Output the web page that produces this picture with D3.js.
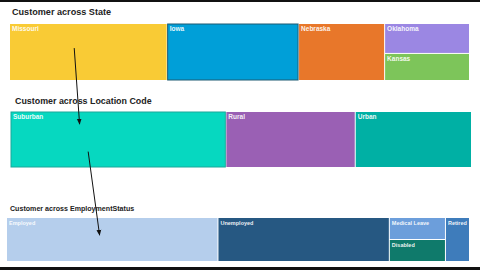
<!DOCTYPE html>
<html>
<head>
<meta charset="utf-8">
<script src="https://cdn.jsdelivr.net/npm/d3@7"></script>
<style>
  body { margin: 0; background: #fff; }
  svg { display: block; font-family: "Liberation Sans", Arial, sans-serif; }
</style>
</head>
<body>
<svg id="chart" width="480" height="270"></svg>
<script>
// State row (Oklahoma + Kansas stacked)
const stateNames = ["Missouri", "Iowa", "Nebraska", "Oklahoma", "Kansas"];
const stateValues = [3120, 2601, 1703, 882, 798];
const stateColors = ["#f9cb35", "#009fd8", "#e8772a", "#9b87e3", "#7dc55a"];

// Location code row
const locNames = ["Suburban", "Rural", "Urban"];
const locValues = [4260, 2560, 2300];
const locColors = ["#06d8c0", "#9a60b4", "#00b0a4"];

// Employment row (Medical Leave + Disabled stacked)
const empNames = ["Employed", "Unemployed", "Medical Leave", "Disabled", "Retired"];
const empValues = [4220, 3420, 560, 560, 480];
const empColors = ["#b5ceec", "#265882", "#6c9edb", "#0f7a6b", "#3e7cbb"];

const svg = d3.select("#chart");

// black bars top / bottom of the slide
svg.append("rect").attr("x", 0).attr("y", 0).attr("width", 480).attr("height", 2).attr("fill", "#111");
svg.append("rect").attr("x", 0).attr("y", 267).attr("width", 480).attr("height", 3).attr("fill", "#111");

// build a hierarchy; names in `stack` are grouped into one vertical column
function buildTree(names, values, stack) {
  const children = [];
  let group = null;
  names.forEach((n, i) => {
    const leaf = { name: n, value: values[i], idx: i };
    if (stack.includes(n)) {
      if (!group) { group = { name: "group", children: [] }; children.push(group); }
      group.children.push(leaf);
    } else {
      children.push(leaf);
    }
  });
  return { name: "root", children: children };
}

function drawRow(opts) {
  svg.append("text")
    .attr("x", opts.titleX).attr("y", opts.titleY)
    .attr("font-size", opts.titleSize).attr("font-weight", "bold")
    .attr("fill", "#222")
    .text(opts.title);

  const root = d3.hierarchy(buildTree(opts.names, opts.values, opts.stack))
    .sum(d => d.value || 0);

  d3.treemap()
    .tile(d3.treemapSliceDice)
    .size([opts.w, opts.h])
    .paddingInner(1)
    .round(false)(root);

  const g = svg.append("g").attr("transform", `translate(${opts.x},${opts.y})`);
  const leaves = g.selectAll("g").data(root.leaves()).join("g")
    .attr("transform", d => `translate(${d.x0},${d.y0})`);

  leaves.append("rect")
    .attr("width", d => d.x1 - d.x0)
    .attr("height", d => d.y1 - d.y0)
    .attr("fill", d => opts.colors[d.data.idx])
    .attr("stroke", d => opts.borders[d.data.name] || "none")
    .attr("stroke-width", 1);

  leaves.append("text")
    .attr("x", 2).attr("y", 7)
    .attr("font-size", opts.labelSize).attr("font-weight", "bold")
    .attr("fill", "#fff").attr("fill-opacity", 0.92)
    .text(d => d.data.name);

  const pos = {};
  root.leaves().forEach(d => { pos[d.data.name] = { x: opts.x + d.x0, y: opts.y + d.y0, w: d.x1 - d.x0, h: d.y1 - d.y0 }; });
  return pos;
}

const p1 = drawRow({
  title: "Customer across State", titleX: 12, titleY: 15, titleSize: 9.1,
  names: stateNames, values: stateValues, colors: stateColors,
  stack: ["Oklahoma", "Kansas"], borders: { "Iowa": "#1d5a72" },
  x: 10, y: 24, w: 459, h: 56, labelSize: 6.5
});

const p2 = drawRow({
  title: "Customer across Location Code", titleX: 15, titleY: 104, titleSize: 8.9,
  names: locNames, values: locValues, colors: locColors,
  stack: [], borders: { "Suburban": "#1aa89a" },
  x: 11, y: 112, w: 460, h: 55, labelSize: 6.5
});

const p3 = drawRow({
  title: "Customer across EmploymentStatus", titleX: 10, titleY: 211, titleSize: 7.1,
  names: empNames, values: empValues, colors: empColors,
  stack: ["Medical Leave", "Disabled"], borders: {},
  x: 7, y: 218, w: 462, h: 43, labelSize: 5.5
});

// annotation arrows
svg.append("defs").append("marker")
  .attr("id", "ah").attr("viewBox", "0 0 10 10")
  .attr("refX", 9).attr("refY", 5)
  .attr("markerWidth", 6).attr("markerHeight", 6)
  .attr("orient", "auto")
  .append("path").attr("d", "M0,1 L10,5 L0,9 Z").attr("fill", "#111");

function at(p, fx, fy) { return [p.x + p.w * fx, p.y + p.h * fy]; }
const arrows = [
  [at(p1["Missouri"], 0.41, 0.43), at(p2["Suburban"], 0.32, 0.22)],
  [at(p2["Suburban"], 0.36, 0.72), at(p3["Employed"], 0.44, 0.4)]
];
svg.selectAll("line.arrow").data(arrows).join("line")
  .attr("class", "arrow")
  .attr("x1", d => d[0][0]).attr("y1", d => d[0][1])
  .attr("x2", d => d[1][0]).attr("y2", d => d[1][1])
  .attr("stroke", "#111").attr("stroke-width", 1)
  .attr("marker-end", "url(#ah)");
</script>
</body>
</html>
